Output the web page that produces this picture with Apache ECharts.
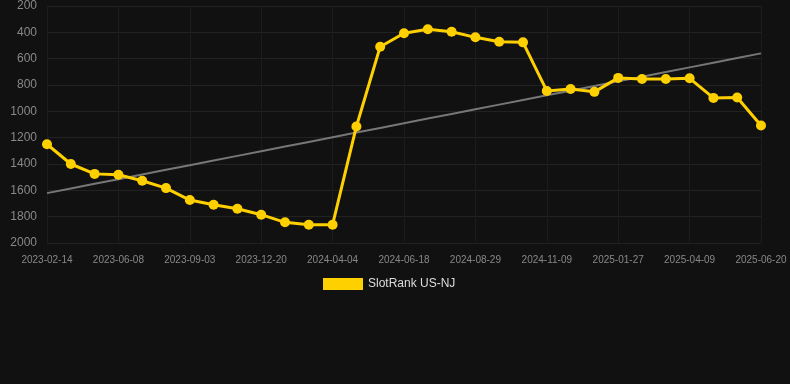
<!DOCTYPE html>
<html>
<head>
<meta charset="utf-8">
<script src="https://cdn.jsdelivr.net/npm/echarts@6/dist/echarts.min.js"></script>
<style>
  html, body { margin: 0; padding: 0; background: #111111; }
  #chart { width: 790px; height: 384px; }
</style>
</head>
<body>
<div id="chart"></div>
<script>
// 日期（类目轴）
var dates = [
  '2023-02-14', '2023-03-24', '2023-05-01', '2023-06-08', '2023-07-07', '2023-08-05',
  '2023-09-03', '2023-10-09', '2023-11-14', '2023-12-20', '2024-01-24', '2024-02-28',
  '2024-04-04', '2024-04-29', '2024-05-24', '2024-06-18', '2024-07-12', '2024-08-05',
  '2024-08-29', '2024-09-22', '2024-10-16', '2024-11-09', '2024-12-05', '2024-12-31',
  '2025-01-27', '2025-02-20', '2025-03-16', '2025-04-09', '2025-05-03', '2025-05-27',
  '2025-06-20'
];
// 排名
var ranks = [
  1250, 1400, 1475, 1482, 1527, 1583,
  1674, 1709, 1740, 1785, 1843, 1861,
  1861, 1115, 509, 407, 377, 395,
  438, 471, 476, 845, 830, 852,
  746, 754, 754, 749, 898, 895,
  1108
];
var seriesName = 'SlotRank US-NJ';

// 趋势线：最小二乘
function trend(vals) {
  var n = vals.length, sx = 0, sy = 0, sxy = 0, sxx = 0;
  for (var i = 0; i < n; i++) {
    sx += i; sy += vals[i]; sxy += i * vals[i]; sxx += i * i;
  }
  var b = (n * sxy - sx * sy) / (n * sxx - sx * sx);
  var a = (sy - b * sx) / n;
  return vals.map(function (v, i) { return a + b * i; });
}

var myChart = echarts.init(document.getElementById('chart'));
myChart.setOption({
  backgroundColor: '#111111',
  animation: false,
  grid: { left: 47, right: 29, top: 6, bottom: 141 },
  legend: {
    top: 273,
    left: 318,
    itemWidth: 40,
    itemHeight: 12,
    itemGap: 6,
    textStyle: { color: '#dddddd', fontSize: 12, fontFamily: 'Arial, Liberation Sans, sans-serif' },
    data: [{ name: seriesName, icon: 'rect' }]
  },
  xAxis: {
    type: 'category',
    data: dates,
    boundaryGap: false,
    axisLine: { show: false },
    axisTick: { show: false },
    axisLabel: { interval: 2, color: '#888888', fontSize: 10, margin: 12, fontFamily: 'Arial, Liberation Sans, sans-serif' },
    splitLine: { show: true, interval: 2, lineStyle: { color: '#1c1c1c', width: 1 } }
  },
  yAxis: {
    type: 'value',
    inverse: true,
    min: 200,
    max: 2000,
    interval: 200,
    axisLine: { show: false },
    axisTick: { show: false },
    axisLabel: {
      color: '#888888', fontSize: 12, margin: 10, fontFamily: 'Arial, Liberation Sans, sans-serif',
      formatter: function (v) { return String(v); }
    },
    splitLine: { lineStyle: { color: '#222222', width: 1 } }
  },
  series: [
    {
      name: 'trend',
      type: 'line',
      data: trend(ranks),
      showSymbol: false,
      symbol: 'none',
      lineStyle: { color: '#777777', width: 2 },
      silent: true,
      z: 1
    },
    {
      name: seriesName,
      type: 'line',
      data: ranks,
      symbol: 'circle',
      symbolSize: 10,
      itemStyle: { color: '#FFD000' },
      lineStyle: { color: '#FFD000', width: 3 },
      z: 2
    }
  ]
});
</script>
</body>
</html>
